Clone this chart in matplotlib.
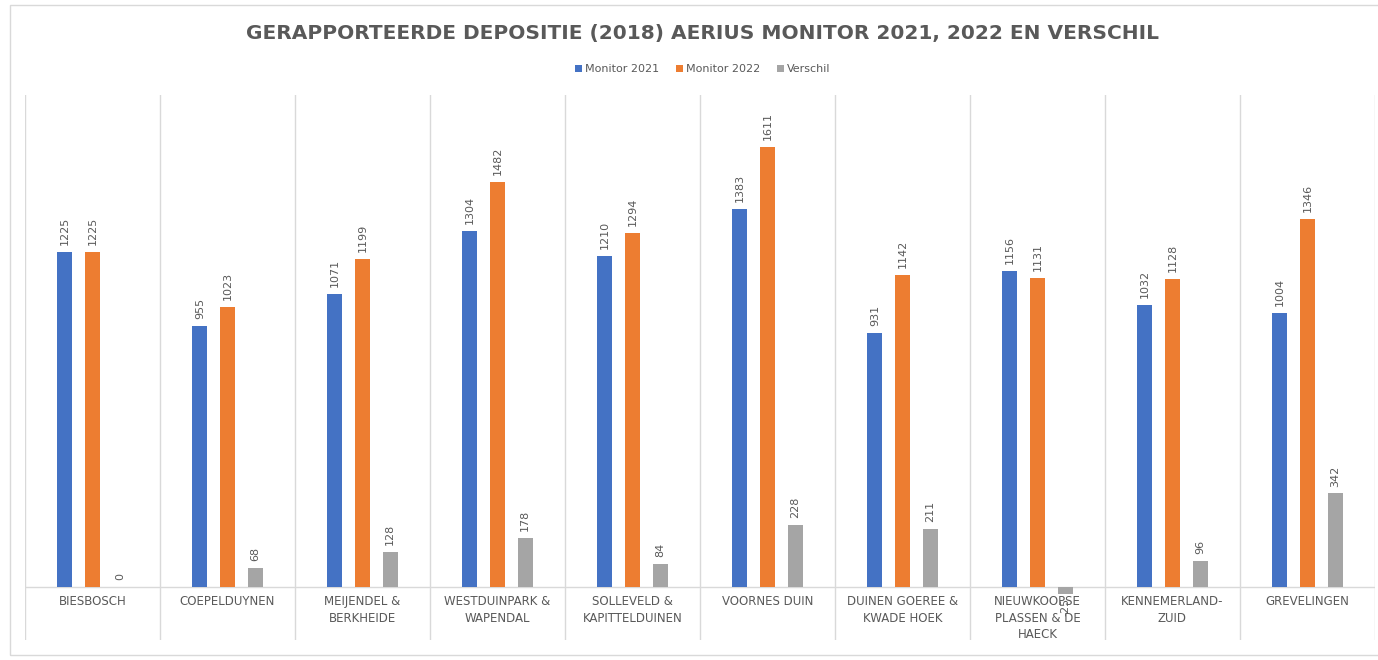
import numpy as np
import matplotlib.pyplot as plt
from matplotlib.patches import Rectangle

# categories and values
gebieden = ['BIESBOSCH', 'COEPELDUYNEN', 'MEIJENDEL &\nBERKHEIDE', 'WESTDUINPARK &\nWAPENDAL',
            'SOLLEVELD &\nKAPITTELDUINEN', 'VOORNES DUIN', 'DUINEN GOEREE &\nKWADE HOEK',
            'NIEUWKOOPSE\nPLASSEN & DE\nHAECK', 'KENNEMERLAND-\nZUID', 'GREVELINGEN']
monitor_2021 = [1225, 955, 1071, 1304, 1210, 1383, 931, 1156, 1032, 1004]
monitor_2022 = [1225, 1023, 1199, 1482, 1294, 1611, 1142, 1131, 1128, 1346]
verschil = [0, 68, 128, 178, 84, 228, 211, -25, 96, 342]
series = ['Monitor 2021', 'Monitor 2022', 'Verschil']
colors = ['#4472C4', '#ED7D31', '#A5A5A5']

txt_grey = '#595959'
grid_grey = '#D9D9D9'

fig = plt.figure(figsize=(13.78, 6.6), dpi=100)
ax = fig.add_axes([0.0181, 0.0303, 0.9797, 0.8258])

# outer chart frame (right edge runs off the picture)
fig.patches.append(Rectangle((0.0073, 0.008), 1.0, 0.984, transform=fig.transFigure,
                             fill=False, edgecolor=grid_grey, linewidth=1.0))

x = np.arange(len(gebieden))
offset = 0.205
width = 0.112
for i, (vals, col) in enumerate(zip([monitor_2021, monitor_2022, verschil], colors)):
    pos = x + (i - 1) * offset
    ax.bar(pos, vals, width=width, color=col, label=series[i], zorder=3)
    for p, v in zip(pos, vals):
        if v >= 0:
            ax.annotate(str(v), (p, v), xytext=(0, 5), textcoords='offset points',
                        rotation=90, ha='center', va='bottom', fontsize=8, color=txt_grey)
        else:
            ax.annotate(str(v), (p, v), xytext=(0, -3), textcoords='offset points',
                        rotation=90, ha='center', va='top', fontsize=8, color=txt_grey)

ax.set_xlim(-0.5, len(gebieden) - 0.5)
ax.set_ylim(-194, 1800)
ax.axhline(0, color=grid_grey, linewidth=1.0, zorder=2)
for b in np.arange(-0.5, len(gebieden)):
    ax.axvline(b, color=grid_grey, linewidth=1.0, zorder=1)

for xi, name in zip(x, gebieden):
    ax.text(xi, -30, name, ha='center', va='top', fontsize=8.5, color=txt_grey,
            linespacing=1.35)

ax.set_xticks([])
ax.set_yticks([])
for s in ax.spines.values():
    s.set_visible(False)

fig.text(0.51, 0.95, 'GERAPPORTEERDE DEPOSITIE (2018) AERIUS MONITOR 2021, 2022 EN VERSCHIL',
         ha='center', va='center', fontsize=14.5, fontweight='bold', color=txt_grey)
fig.legend(loc='center', bbox_to_anchor=(0.51, 0.895), ncol=3, frameon=False, fontsize=8,
           handlelength=0.6, handleheight=0.6, handletextpad=0.3, columnspacing=1.5,
           labelcolor=txt_grey)

fig.savefig('out.png', dpi=100)
